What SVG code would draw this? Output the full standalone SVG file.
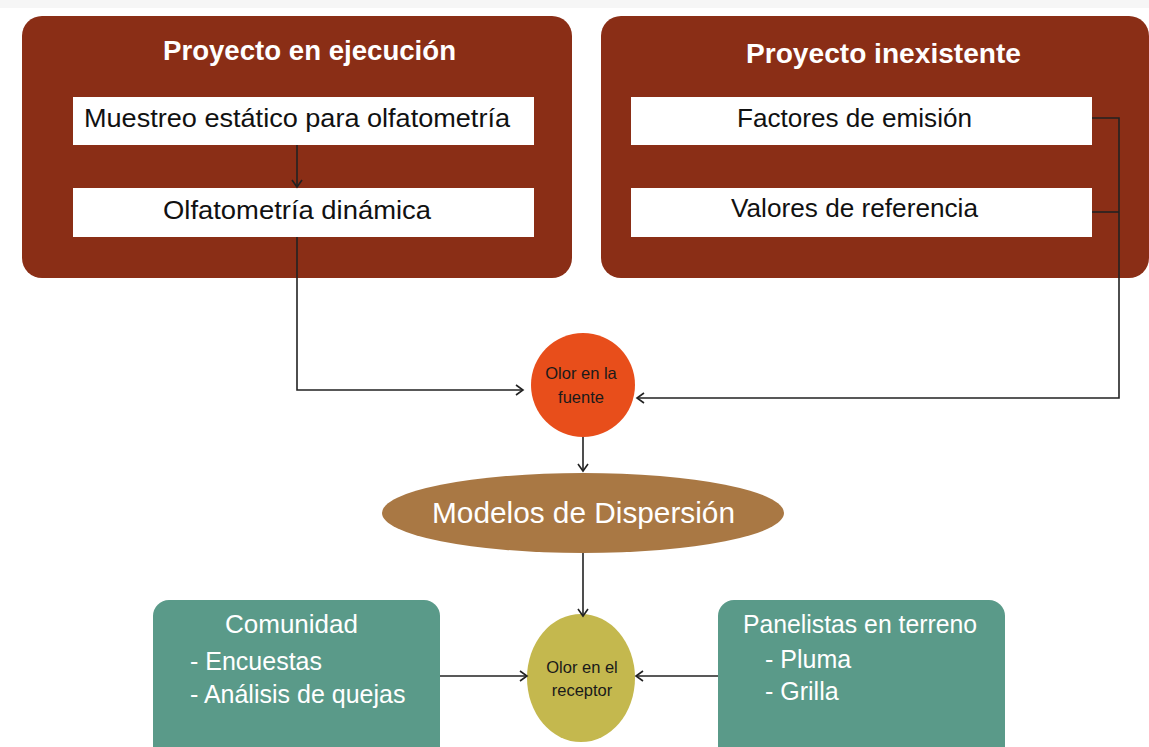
<svg xmlns="http://www.w3.org/2000/svg" width="1149" height="747" viewBox="0 0 1149 747">
<style>
.panel{fill:#8a2e16}
.wbox{fill:#ffffff}
.teal{fill:#5a9a89}
.t{font-family:"Liberation Sans",Arial,sans-serif}
.title{font-size:27px;font-weight:bold;fill:#ffffff}
.item{font-size:26px;fill:#111111}
.lbl{font-size:16.5px;fill:#1a1a1a}
.wt{font-size:25px;fill:#ffffff}
.conn{fill:none;stroke:#222222;stroke-width:1.6}
</style>
<defs>
<marker id="arr" markerWidth="12" markerHeight="12" refX="9" refY="6" orient="auto" markerUnits="userSpaceOnUse">
<path d="M2,1 L9,6 L2,11" fill="none" stroke="#222222" stroke-width="1.6"/>
</marker>
</defs>
<rect x="0" y="0" width="1149" height="8" fill="#f6f6f6"/>

<g id="proyecto-ejecucion">
<rect class="panel" x="22" y="16" width="550" height="262" rx="20"/>
<text class="t title" x="163" y="60" textLength="293" lengthAdjust="spacingAndGlyphs">Proyecto en ejecución</text>
</g>
<g id="muestreo">
<rect class="wbox" x="73" y="97" width="461" height="48"/>
<text class="t item" x="84" y="127" textLength="426" lengthAdjust="spacingAndGlyphs">Muestreo estático para olfatometría</text>
</g>
<g id="olfatometria">
<rect class="wbox" x="73" y="188" width="461" height="49"/>
<text class="t item" x="163" y="219" textLength="268" lengthAdjust="spacingAndGlyphs">Olfatometría dinámica</text>
</g>

<g id="proyecto-inexistente">
<rect class="panel" x="601" y="16" width="548" height="262" rx="20"/>
<text class="t title" x="746" y="63" textLength="275" lengthAdjust="spacingAndGlyphs">Proyecto inexistente</text>
</g>
<g id="factores">
<rect class="wbox" x="631" y="97" width="461" height="48"/>
<text class="t item" x="737" y="127" textLength="235" lengthAdjust="spacingAndGlyphs">Factores de emisión</text>
</g>
<g id="valores">
<rect class="wbox" x="631" y="188" width="461" height="49"/>
<text class="t item" x="731" y="217" textLength="247" lengthAdjust="spacingAndGlyphs">Valores de referencia</text>
</g>

<g id="olor-fuente">
<circle cx="583" cy="385" r="52" fill="#e84e1b"/>
<text class="t lbl" x="581" y="379" text-anchor="middle">Olor en la</text>
<text class="t lbl" x="581" y="403" text-anchor="middle">fuente</text>
</g>

<g id="modelos">
<ellipse cx="583" cy="513" rx="201" ry="40" fill="#a97844"/>
<text class="t" x="432" y="523" font-size="29" fill="#ffffff" textLength="303" lengthAdjust="spacingAndGlyphs">Modelos de Dispersión</text>
</g>

<g id="olor-receptor">
<ellipse cx="581" cy="678" rx="54" ry="64" fill="#c4b84e"/>
<text class="t lbl" x="582" y="673" text-anchor="middle">Olor en el</text>
<text class="t lbl" x="582" y="696" text-anchor="middle">receptor</text>
</g>

<g id="comunidad">
<rect class="teal" x="153" y="600" width="287" height="170" rx="16"/>
<text class="t wt" x="225" y="633" textLength="133" lengthAdjust="spacingAndGlyphs">Comunidad</text>
<text class="t wt" x="190" y="670">- Encuestas</text>
<text class="t wt" x="190" y="703">- Análisis de quejas</text>
</g>

<g id="panelistas">
<rect class="teal" x="718" y="600" width="287" height="170" rx="16"/>
<text class="t wt" x="743" y="633" textLength="234" lengthAdjust="spacingAndGlyphs">Panelistas en terreno</text>
<text class="t wt" x="765" y="668">- Pluma</text>
<text class="t wt" x="765" y="700">- Grilla</text>
</g>

<g id="connectors">
<path class="conn" d="M297,145 L297,187" marker-end="url(#arr)"/>
<path class="conn" d="M297,237 L297,390 L523,390" marker-end="url(#arr)"/>
<path class="conn" d="M1092,118 L1119,118 L1119,398 L637,398" marker-end="url(#arr)"/>
<path class="conn" d="M1092,212 L1119,212"/>
<path class="conn" d="M583,437 L583,471" marker-end="url(#arr)"/>
<path class="conn" d="M583,553 L583,616" marker-end="url(#arr)"/>
<path class="conn" d="M440,676 L527,676" marker-end="url(#arr)"/>
<path class="conn" d="M718,676 L636,676" marker-end="url(#arr)"/>
</g>
</svg>
